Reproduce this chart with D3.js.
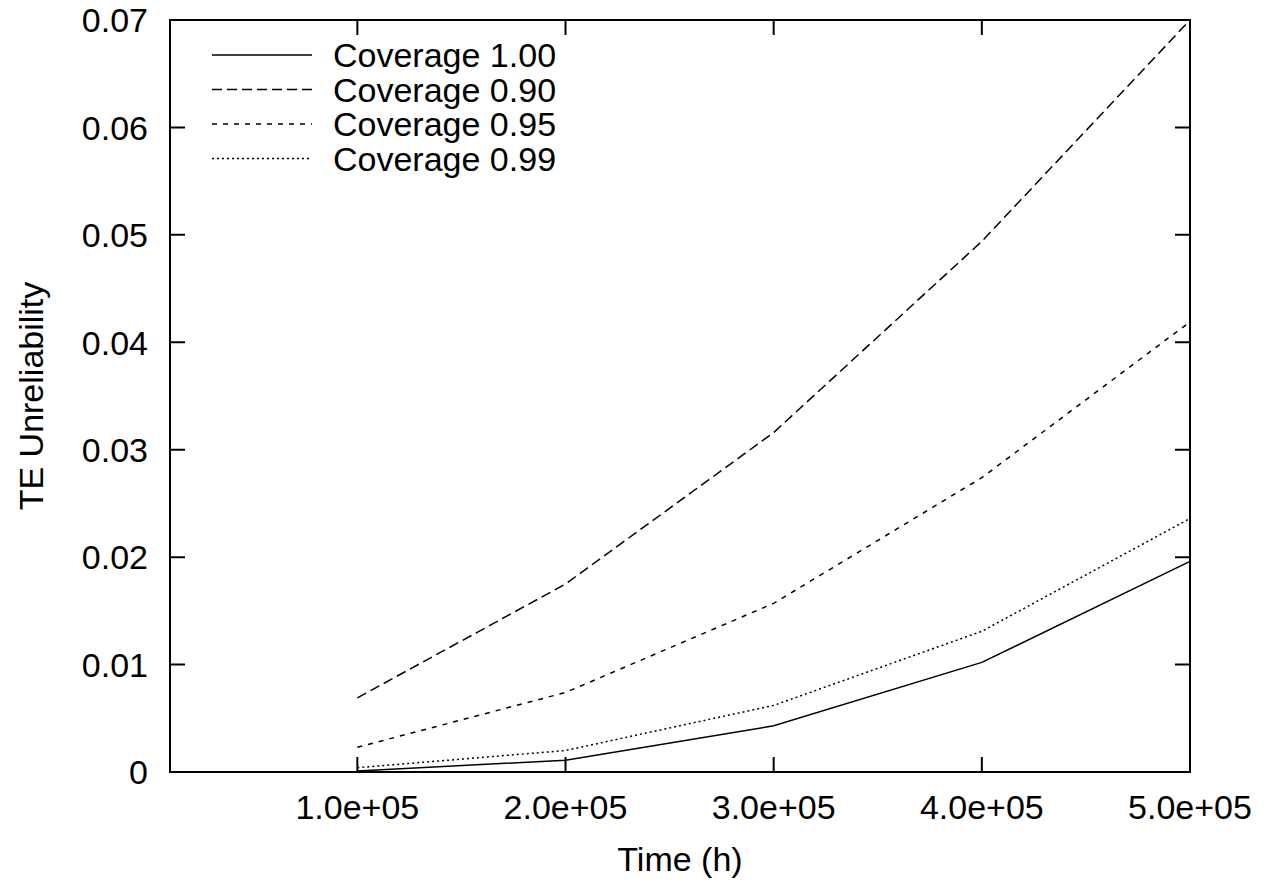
<!DOCTYPE html>
<html>
<head>
<meta charset="utf-8">
<script src="https://cdn.jsdelivr.net/npm/d3@7"></script>
<style>
body { margin: 0; background: #fff; }
text { font-family: "Liberation Sans", Arial, sans-serif; font-size: 34px; fill: #000; }
</style>
</head>
<body>
<script>
var width = 1268, height = 885;
//Data.
var times = [100000, 200000, 300000, 400000, 500000];
var cov100 = [0.0001, 0.0011, 0.0043, 0.0102, 0.0196];
var cov090 = [0.0069, 0.0175, 0.0316, 0.0494, 0.0700];
var cov095 = [0.0023, 0.0074, 0.0157, 0.0274, 0.0419];
var cov099 = [0.0004, 0.0020, 0.0062, 0.0131, 0.0236];
var seriesNames = ['Coverage 1.00', 'Coverage 0.90', 'Coverage 0.95', 'Coverage 0.99'];
var seriesValues = [cov100, cov090, cov095, cov099];
var dashes = ['none', '10,5', '5,6', '2,3'];
var xTicks = [100000, 200000, 300000, 400000, 500000];
var yTicks = [0, 0.01, 0.02, 0.03, 0.04, 0.05, 0.06, 0.07];

var margin = {top: 20, right: 78, bottom: 113, left: 170};
var innerWidth = width - margin.left - margin.right;
var innerHeight = height - margin.top - margin.bottom;

var svg = d3.select('body').append('svg')
	.attr('width', width)
	.attr('height', height);
var inner = svg.append('g')
	.attr('transform', 'translate(' + margin.left + ',' + margin.top + ')');

var xScale = d3.scaleLinear().domain([10000, 500000]).range([0, innerWidth]);
var yScale = d3.scaleLinear().domain([0, 0.07]).range([innerHeight, 0]);

//Inward ticks on all four sides, as gnuplot draws them.
var tickLen = 15;
inner.selectAll('.xtick').data(xTicks).enter().append('path')
	.attr('d', function(d) {
		var x = xScale(d);
		return 'M' + x + ',' + innerHeight + 'v' + (-tickLen) + 'M' + x + ',0v' + tickLen;
	})
	.style('stroke', '#000').style('stroke-width', 2);
inner.selectAll('.ytick').data(yTicks).enter().append('path')
	.attr('d', function(d) {
		var y = yScale(d);
		return 'M0,' + y + 'h' + tickLen + 'M' + innerWidth + ',' + y + 'h' + (-tickLen);
	})
	.style('stroke', '#000').style('stroke-width', 2);

inner.selectAll('.xlabel').data(xTicks).enter().append('text')
	.attr('x', function(d) { return xScale(d); })
	.attr('y', innerHeight + 47)
	.attr('text-anchor', 'middle')
	.text(function(d) { return d.toExponential(1).replace('e+', 'e+0'); });
inner.selectAll('.ylabel').data(yTicks).enter().append('text')
	.attr('x', -22)
	.attr('y', function(d) { return yScale(d); })
	.attr('dy', '0.36em')
	.attr('text-anchor', 'end')
	.text(function(d) { return d === 0 ? '0' : d3.format('.2f')(d); });

//Series lines.
var line = d3.line()
	.x(function(d) { return xScale(d[0]); })
	.y(function(d) { return yScale(d[1]); });
seriesValues.forEach(function(vals, i) {
	inner.append('path')
		.datum(d3.zip(times, vals))
		.attr('d', line)
		.style('fill', 'none')
		.style('stroke', '#000')
		.style('stroke-width', 1.5)
		.style('stroke-dasharray', dashes[i]);
});

//Frame.
inner.append('rect')
	.attr('width', innerWidth)
	.attr('height', innerHeight)
	.style('fill', 'none')
	.style('stroke', '#000')
	.style('stroke-width', 2);

//Legend.
var legend = inner.append('g').attr('transform', 'translate(42,35)');
seriesNames.forEach(function(name, i) {
	var y = i * 34.5;
	legend.append('line')
		.attr('x1', 0).attr('x2', 100)
		.attr('y1', y).attr('y2', y)
		.style('stroke', '#000')
		.style('stroke-width', 1.5)
		.style('stroke-dasharray', dashes[i]);
	legend.append('text')
		.attr('x', 121)
		.attr('y', y)
		.attr('dy', '0.36em')
		.text(name);
});

//Axis titles.
svg.append('text')
	.attr('x', margin.left + innerWidth / 2)
	.attr('y', 871)
	.attr('text-anchor', 'middle')
	.text('Time (h)');
svg.append('text')
	.attr('transform', 'translate(43,' + (margin.top + innerHeight / 2) + ') rotate(-90)')
	.attr('text-anchor', 'middle')
	.text('TE Unreliability');
</script>
</body>
</html>
